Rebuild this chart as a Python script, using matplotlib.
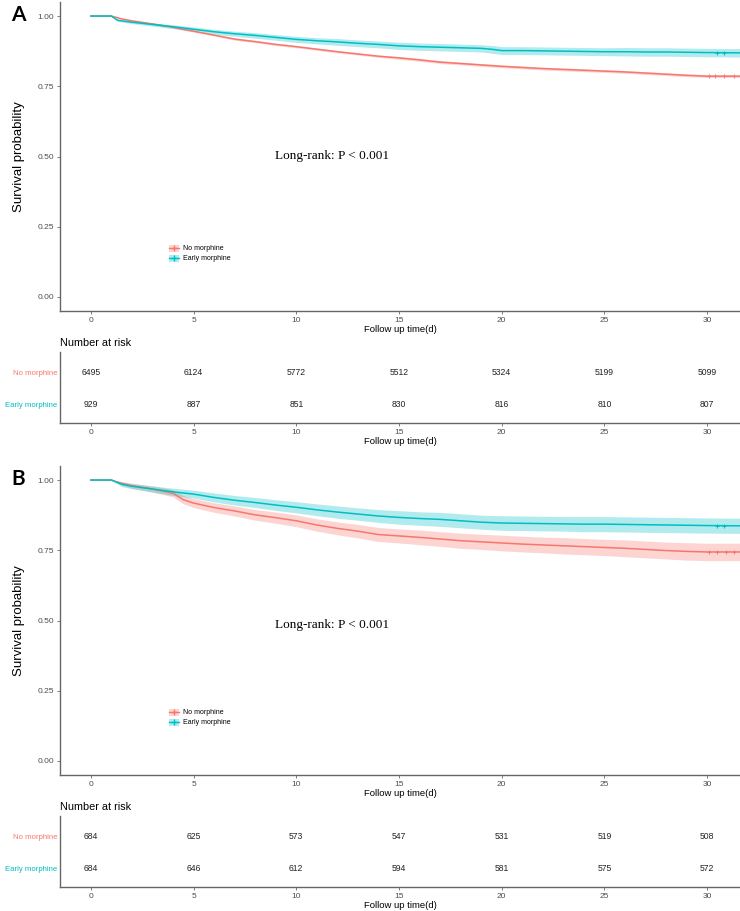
import numpy as np
import matplotlib.pyplot as plt
from matplotlib.lines import Line2D
from matplotlib.patches import Patch

plt.rcParams["font.family"] = ["Liberation Sans", "DejaVu Sans"]

RED = "#F8766D"
TEAL = "#00BFC4"
GREY = "#4D4D4D"

groups = ["No morphine", "Early morphine"]
risk_times = [0, 5, 10, 15, 20, 25, 30]

# panel A (all patients)
a_no_t = [0, 1, 1.5, 2, 3, 4, 5, 6, 7, 8, 9, 10, 11, 12, 13, 14, 15, 16, 17, 18, 19, 20,
          21, 22, 23, 24, 25, 26, 27, 28, 29, 30, 31.6]
a_no_s = [1.0, 1.0, 0.990, 0.983, 0.972, 0.960, 0.946, 0.932, 0.918, 0.909, 0.899, 0.891,
          0.882, 0.873, 0.865, 0.857, 0.851, 0.844, 0.836, 0.831, 0.826, 0.821, 0.817,
          0.813, 0.810, 0.807, 0.804, 0.801, 0.797, 0.793, 0.789, 0.786, 0.786]
a_no_ci = [0, 0, 0.002, 0.002, 0.003, 0.003, 0.003, 0.003, 0.004, 0.004, 0.004, 0.004,
           0.004, 0.004, 0.004, 0.004, 0.005, 0.005, 0.005, 0.005, 0.005, 0.005, 0.005,
           0.005, 0.005, 0.005, 0.005, 0.005, 0.005, 0.005, 0.005, 0.005, 0.005]
a_em_t = [0, 1, 1.3, 2, 3, 4, 5, 6, 7, 8, 9, 10, 11, 12, 13, 14, 15, 16, 17, 18, 19, 19.6,
          20, 21, 22, 23, 24, 25, 26, 27, 28, 29, 30, 31.6]
a_em_s = [1.0, 1.0, 0.985, 0.978, 0.970, 0.962, 0.953, 0.944, 0.937, 0.931, 0.924, 0.917,
          0.912, 0.908, 0.903, 0.899, 0.894, 0.891, 0.889, 0.887, 0.885, 0.881, 0.877,
          0.877, 0.876, 0.875, 0.874, 0.873, 0.873, 0.872, 0.872, 0.871, 0.870, 0.869]
a_em_ci = [0, 0, 0.004, 0.005, 0.006, 0.007, 0.008, 0.009, 0.009, 0.010, 0.010, 0.011,
           0.011, 0.012, 0.012, 0.012, 0.013, 0.013, 0.013, 0.013, 0.013, 0.014, 0.014,
           0.014, 0.014, 0.014, 0.014, 0.014, 0.015, 0.015, 0.015, 0.015, 0.015, 0.015]
a_no_cens = [30.1, 30.4, 30.8, 31.3]
a_em_cens = [30.5, 30.8]
a_risk_no = [6495, 6124, 5772, 5512, 5324, 5199, 5099]
a_risk_em = [929, 887, 851, 830, 816, 810, 807]

# panel B (matched)
b_no_t = [0, 1, 1.5, 2, 3, 4, 4.5, 5, 6, 7, 8, 9, 10, 11, 12, 13, 14, 15, 16, 17, 18, 19,
          20, 21, 22, 23, 24, 25, 26, 27, 28, 29, 30, 31.6]
b_no_s = [1.0, 1.0, 0.988, 0.980, 0.968, 0.953, 0.930, 0.918, 0.902, 0.890, 0.876, 0.866,
          0.855, 0.840, 0.828, 0.818, 0.806, 0.801, 0.796, 0.790, 0.784, 0.780, 0.776,
          0.772, 0.769, 0.766, 0.763, 0.760, 0.757, 0.753, 0.749, 0.746, 0.744, 0.744]
b_no_ci = [0, 0, 0.007, 0.009, 0.011, 0.013, 0.015, 0.016, 0.017, 0.018, 0.019, 0.020,
           0.021, 0.022, 0.023, 0.024, 0.025, 0.025, 0.026, 0.026, 0.027, 0.027, 0.028,
           0.028, 0.028, 0.029, 0.029, 0.029, 0.030, 0.030, 0.030, 0.031, 0.031, 0.031]
b_em_t = [0, 1, 1.5, 2, 3, 4, 5, 6, 7, 8, 9, 10, 11, 12, 13, 14, 15, 16, 17, 18, 19, 20,
          21, 22, 23, 24, 25, 26, 27, 28, 29, 30, 31.6]
b_em_s = [1.0, 1.0, 0.985, 0.978, 0.968, 0.958, 0.950, 0.938, 0.928, 0.920, 0.911, 0.903,
          0.894, 0.886, 0.879, 0.872, 0.867, 0.863, 0.860, 0.855, 0.850, 0.847, 0.846,
          0.845, 0.844, 0.843, 0.843, 0.842, 0.841, 0.840, 0.839, 0.838, 0.837]
b_em_ci = [0, 0, 0.008, 0.009, 0.011, 0.013, 0.014, 0.016, 0.017, 0.018, 0.019, 0.020,
           0.021, 0.022, 0.022, 0.023, 0.024, 0.024, 0.025, 0.025, 0.025, 0.026, 0.026,
           0.026, 0.026, 0.027, 0.027, 0.027, 0.027, 0.027, 0.027, 0.027, 0.027]
b_no_cens = [30.1, 30.5, 30.9, 31.3]
b_em_cens = [30.5, 30.8]
b_risk_no = [684, 625, 573, 547, 531, 519, 508]
b_risk_em = [684, 646, 612, 594, 581, 575, 572]

W, H = 740, 911
fig = plt.figure(figsize=(W / 100, H / 100), dpi=100)


def box(left, top, right, bottom):
    return [left / W, 1 - bottom / H, (right - left) / W, (bottom - top) / H]


def style(ax):
    for s in ["top", "right"]:
        ax.spines[s].set_visible(False)
    for s in ["left", "bottom"]:
        ax.spines[s].set_color("#666666")
        ax.spines[s].set_linewidth(1.0)
    ax.set_xlim(-1.5, 31.6)
    ax.set_xticks(risk_times)
    ax.tick_params(axis="both", labelsize=6, colors="#666666", labelcolor=GREY, length=2.5, width=0.6, pad=2)
    ax.set_xlabel("Follow up time(d)", fontsize=6.8, labelpad=0.5)


def km(ax, t, s, ci, cens, color):
    t = np.array(t)
    s = np.array(s)
    ci = np.array(ci)
    ax.fill_between(t, s - ci, s + ci, color=color, alpha=0.3, lw=0)
    ax.plot(t, s, color=color, lw=1.1)
    ax.plot(cens, np.interp(cens, t, s), "+", color=color, ms=3.5, mew=0.7)


def panel(top, letter, ptxt_y, no, em, risk_no, risk_em):
    ax = fig.add_axes(box(60, top, 740, top + 309))
    km(ax, *no, RED)
    km(ax, *em, TEAL)
    style(ax)
    ax.set_ylim(-0.05, 1.05)
    ax.set_yticks([0, 0.25, 0.5, 0.75, 1.0])
    ax.set_yticklabels(["0.00", "0.25", "0.50", "0.75", "1.00"])
    ax.set_ylabel("Survival probability", fontsize=9.5)
    ax.yaxis.set_label_coords(-0.051, 0.5)
    ax.text(0.40, ptxt_y, "Long-rank: P < 0.001", transform=ax.transAxes, ha="center", va="center",
            fontsize=9.5, family="Liberation Serif")
    handles = [(Patch(color=RED, alpha=0.3, lw=0), Line2D([], [], color=RED, marker="+", ms=4, lw=1)),
               (Patch(color=TEAL, alpha=0.3, lw=0), Line2D([], [], color=TEAL, marker="+", ms=4, lw=1))]
    ax.legend(handles, groups, loc="center left", bbox_to_anchor=(0.155, 0.186), frameon=False,
              fontsize=5, handlelength=1.4, handleheight=1.2, labelspacing=0.3, borderpad=0,
              handletextpad=0.6)
    fig.text(11 / W, 1 - (top + 13) / H, letter, fontsize=15, fontweight="bold", family="Lato",
             ha="left", va="center")

    rt = fig.add_axes(box(60, top + 350, 740, top + 421))
    style(rt)
    rt.set_ylim(0.42, 2.625)
    rt.set_yticks([2, 1])
    rt.set_yticklabels(groups, fontsize=5.6)
    rt.tick_params(axis="y", length=0, pad=2)
    for lab, c in zip(rt.get_yticklabels(), [RED, TEAL]):
        lab.set_color(c)
    for x, n1, n2 in zip(risk_times, risk_no, risk_em):
        rt.text(x, 2, str(n1), ha="center", va="center", fontsize=6.2, color="#222222")
        rt.text(x, 1, str(n2), ha="center", va="center", fontsize=6.2, color="#222222")
    fig.text(60 / W, 1 - (top + 341) / H, "Number at risk", fontsize=7.8, ha="left", va="center")


panel(2, "A", 0.50, (a_no_t, a_no_s, a_no_ci, a_no_cens), (a_em_t, a_em_s, a_em_ci, a_em_cens),
      a_risk_no, a_risk_em)
panel(466, "B", 0.487, (b_no_t, b_no_s, b_no_ci, b_no_cens), (b_em_t, b_em_s, b_em_ci, b_em_cens),
      b_risk_no, b_risk_em)

fig.savefig("out.png", dpi=100)
